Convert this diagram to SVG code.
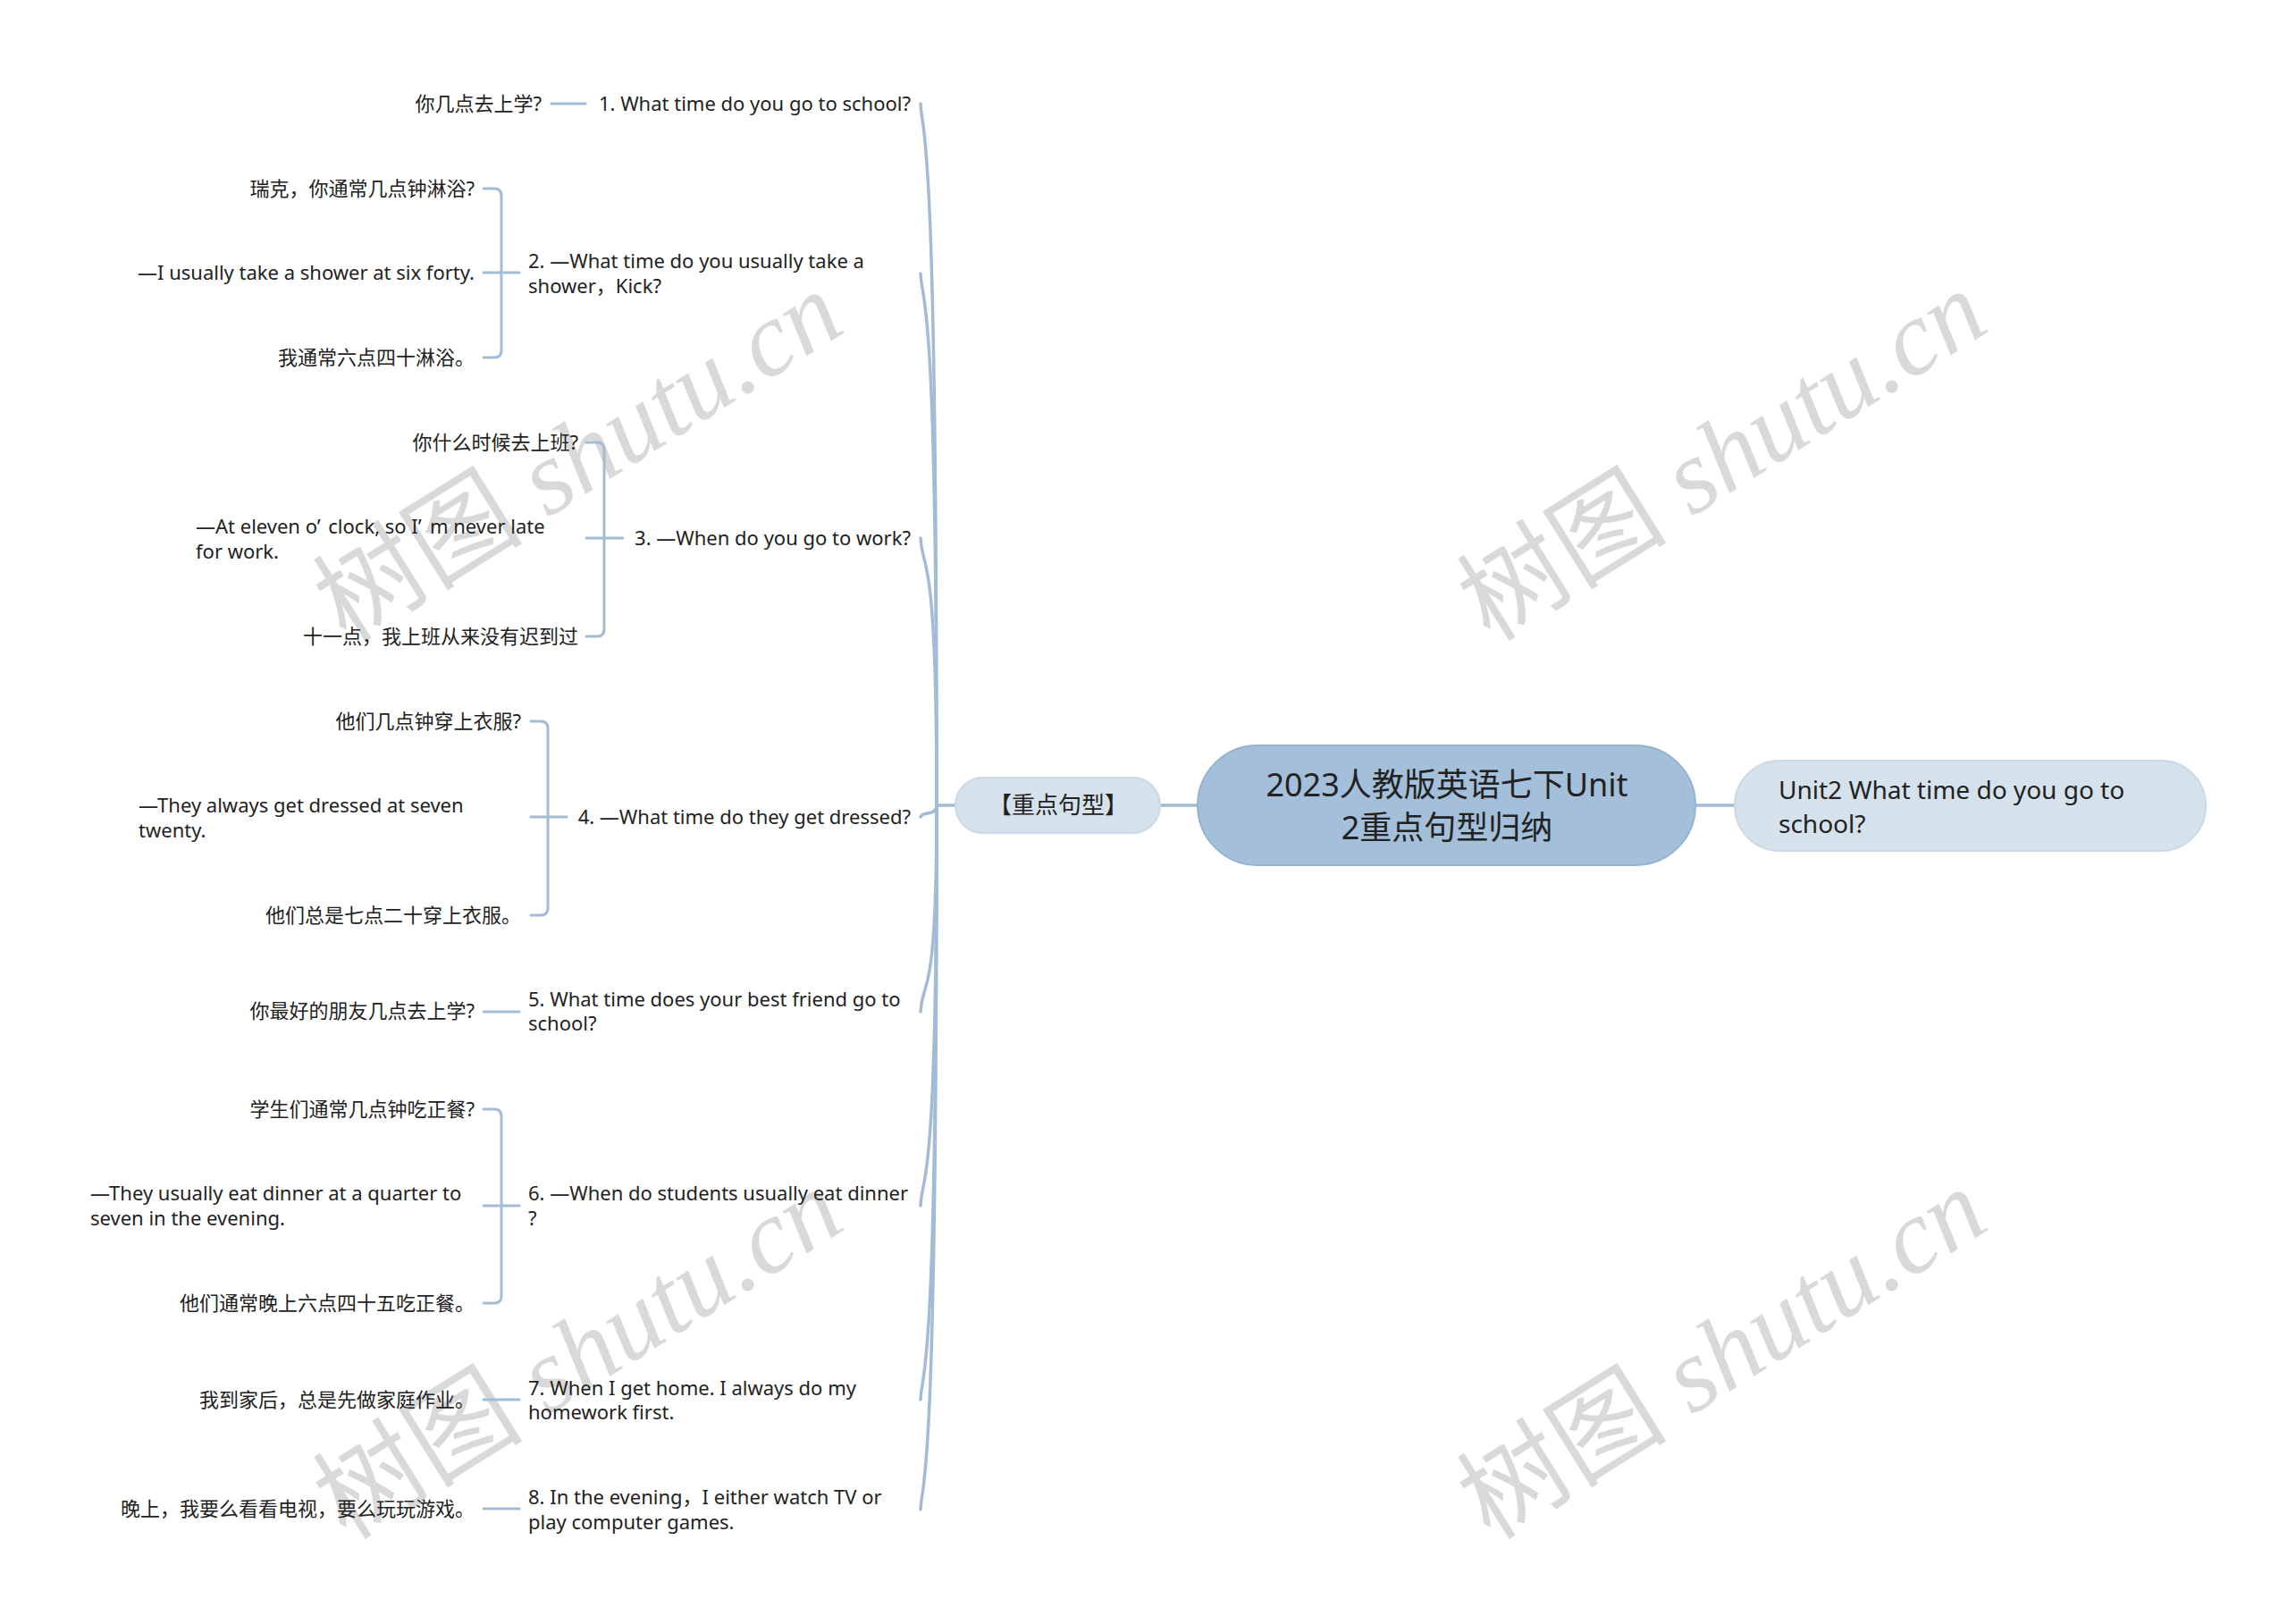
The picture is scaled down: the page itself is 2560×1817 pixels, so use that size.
<svg xmlns="http://www.w3.org/2000/svg" width="2560" height="1817" viewBox="0 0 2560 1817">
<style>
.t{font-family:'Noto Sans','Noto Sans CJK SC',sans-serif;font-size:22px;fill:#222}
.e{text-anchor:end}
.m{text-anchor:middle}
.ln{fill:none;stroke:#a2bcd6;stroke-width:3;stroke-linecap:round}
.mn{fill:none;stroke:#a2bcd6;stroke-width:3.5;stroke-linecap:round}
.wm{font-size:118px;fill:#d9d9d9}
.wm1{font-family:'Noto Sans CJK SC',sans-serif}
.wm2{font-family:'Liberation Serif',serif;font-style:italic}
</style>
<rect width="2560" height="1817" fill="#ffffff"/>
<g id="watermarks">
<text class="wm m" transform="translate(647,511) rotate(-32)" y="40"><tspan class="wm1">树图</tspan><tspan class="wm2"> shutu.cn</tspan></text>
<text class="wm m" transform="translate(1927,510) rotate(-32)" y="40"><tspan class="wm1">树图</tspan><tspan class="wm2"> shutu.cn</tspan></text>
<text class="wm m" transform="translate(647,1515) rotate(-32)" y="40"><tspan class="wm1">树图</tspan><tspan class="wm2"> shutu.cn</tspan></text>
<text class="wm m" transform="translate(1927,1515) rotate(-32)" y="40"><tspan class="wm1">树图</tspan><tspan class="wm2"> shutu.cn</tspan></text>
</g>
<g id="connectors">
<path class="mn" d="M1298 901 H1340"/>
<path class="mn" d="M1897 901 H1941"/>
<path class="mn" d="M1069 901 H1048"/>
<path class="mn" d="M1048 901 C1048 116 1032 156 1030 116"/>
<path class="mn" d="M1048 901 C1048 306 1032 346 1030 306"/>
<path class="mn" d="M1048 901 C1048 602 1032 642 1030 602"/>
<path class="mn" d="M1048 901 C1048 914 1032 907 1030 914"/>
<path class="mn" d="M1048 901 C1048 1132 1032 1092 1030 1132"/>
<path class="mn" d="M1048 901 C1048 1349 1032 1309 1030 1349"/>
<path class="mn" d="M1048 901 C1048 1566 1032 1526 1030 1566"/>
<path class="mn" d="M1048 901 C1048 1689 1032 1649 1030 1689"/>
<path class="ln" d="M617 116 H655"/>
<path class="ln" d="M541 211 H553 Q561 211 561 219 V392 Q561 400 553 400 H541"/>
<path class="ln" d="M541 305 H581"/>
<path class="ln" d="M656 495 H668 Q676 495 676 503 V704 Q676 712 668 712 H656"/>
<path class="ln" d="M656 602 H697"/>
<path class="ln" d="M594 807 H605 Q613 807 613 815 V1016 Q613 1024 605 1024 H594"/>
<path class="ln" d="M594 914 H634"/>
<path class="ln" d="M541 1132 H581"/>
<path class="ln" d="M541 1241 H553 Q561 1241 561 1249 V1450 Q561 1458 553 1458 H541"/>
<path class="ln" d="M541 1349 H581"/>
<path class="ln" d="M541 1566 H581"/>
<path class="ln" d="M541 1688 H581"/>
</g>
<g id="root">
<rect x="1340" y="834" width="557" height="134" rx="67" fill="#a3bfd9" stroke="#95b3d0" stroke-width="2"/>
<text class="t m" x="1619" y="891" style="font-size:36px">2023人教版英语七下Unit</text>
<text class="t m" x="1619" y="939" style="font-size:36px">2重点句型归纳</text>
</g>
<g id="n-right">
<rect x="1941" y="851" width="527" height="101" rx="50" fill="#d5e1eb" stroke="#cbd9e6" stroke-width="2"/>
<text class="t" x="1990" y="894" style="font-size:28px">Unit2 What time do you go to</text>
<text class="t" x="1990" y="932" style="font-size:28px">school?</text>
</g>
<g id="n-left">
<rect x="1069" y="870" width="229" height="62" rx="31" fill="#d5e1eb" stroke="#cbd9e6" stroke-width="2"/>
<text class="t m" x="1184" y="910" style="font-size:26px">【重点句型】</text>
</g>
<g id="item1">
<text class="t e" x="1019" y="124">1. What time do you go to school?</text>
</g>
<g id="leaf1"><text class="t e" x="606" y="124">你几点去上学?</text></g>
<g id="item2">
<text class="t" x="591" y="300">2. —What time do you usually take a</text>
<text class="t" x="591" y="328">shower，Kick?</text>
</g>
<g id="leaf2a"><text class="t e" x="531" y="219">瑞克，你通常几点钟淋浴?</text></g>
<g id="leaf2b"><text class="t e" x="531" y="313">—I usually take a shower at six forty.</text></g>
<g id="leaf2c"><text class="t e" x="531" y="408">我通常六点四十淋浴。</text></g>
<g id="item3">
<text class="t e" x="1019" y="610">3. —When do you go to work?</text>
</g>
<g id="leaf3a"><text class="t e" x="647" y="503">你什么时候去上班?</text></g>
<g id="leaf3b">
<text class="t" x="219" y="597">—At eleven o’<tspan dx="10">clock, so I’</tspan><tspan dx="10">m never late</tspan></text>
<text class="t" x="219" y="625">for work.</text>
</g>
<g id="leaf3c"><text class="t e" x="647" y="720">十一点，我上班从来没有迟到过</text></g>
<g id="item4">
<text class="t e" x="1019" y="922">4. —What time do they get dressed?</text>
</g>
<g id="leaf4a"><text class="t e" x="583" y="815">他们几点钟穿上衣服?</text></g>
<g id="leaf4b">
<text class="t" x="155" y="909">—They always get dressed at seven</text>
<text class="t" x="155" y="937">twenty.</text>
</g>
<g id="leaf4c"><text class="t e" x="583" y="1032">他们总是七点二十穿上衣服。</text></g>
<g id="item5">
<text class="t" x="591" y="1126">5. What time does your best friend go to</text>
<text class="t" x="591" y="1153">school?</text>
</g>
<g id="leaf5"><text class="t e" x="531" y="1139">你最好的朋友几点去上学?</text></g>
<g id="item6">
<text class="t" x="591" y="1343">6. —When do students usually eat dinner</text>
<text class="t" x="591" y="1371">?</text>
</g>
<g id="leaf6a"><text class="t e" x="531" y="1249">学生们通常几点钟吃正餐?</text></g>
<g id="leaf6b">
<text class="t" x="101" y="1343">—They usually eat dinner at a quarter to</text>
<text class="t" x="101" y="1371">seven in the evening.</text>
</g>
<g id="leaf6c"><text class="t e" x="531" y="1466">他们通常晚上六点四十五吃正餐。</text></g>
<g id="item7">
<text class="t" x="591" y="1561">7. When I get home. I always do my</text>
<text class="t" x="591" y="1588">homework first.</text>
</g>
<g id="leaf7"><text class="t e" x="531" y="1574">我到家后，总是先做家庭作业。</text></g>
<g id="item8">
<text class="t" x="591" y="1683">8. In the evening，I either watch TV or</text>
<text class="t" x="591" y="1711">play computer games.</text>
</g>
<g id="leaf8"><text class="t e" x="531" y="1696">晚上，我要么看看电视，要么玩玩游戏。</text></g>
</svg>
